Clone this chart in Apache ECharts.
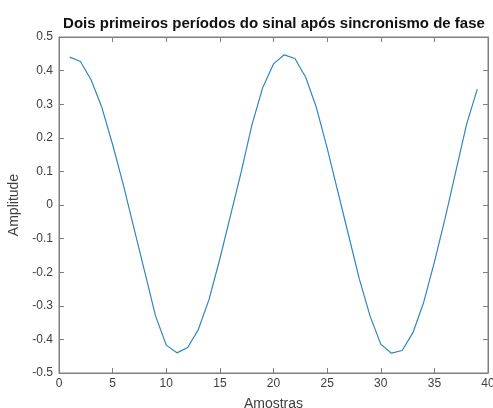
<!DOCTYPE html>
<html>
<head>
<meta charset="utf-8">
<script src="https://cdn.jsdelivr.net/npm/echarts@6/dist/echarts.min.js"></script>
<style>html,body{margin:0;padding:0;background:#fff;}#c{width:493px;height:408px;}</style>
</head>
<body>
<div id="c"></div>
<script>
var samples = [1,2,3,4,5,6,7,8,9,10,11,12,13,14,15,16,17,18,19,20,21,22,23,24,25,26,27,28,29,30,31,32,33,34,35,36,37,38,39];
var amplitude = [0.440,0.427,0.372,0.290,0.180,0.060,-0.070,-0.200,-0.330,-0.417,-0.440,-0.424,-0.370,-0.280,-0.160,-0.030,0.100,0.240,0.350,0.420,0.447,0.436,0.380,0.290,0.170,0.040,-0.090,-0.220,-0.330,-0.414,-0.441,-0.433,-0.380,-0.290,-0.170,-0.040,0.100,0.240,0.345];
var xTicks = [0,5,10,15,20,25,30,35,40];
var yTicks = [-0.5,-0.4,-0.3,-0.2,-0.1,0,0.1,0.2,0.3,0.4,0.5];

var chart = echarts.init(document.getElementById('c'), null, {renderer:'canvas'});
var axisColor = '#7f7f7f';
var labelColor = '#404040';
var font = 'Liberation Sans, Arial, sans-serif';
var pts = samples.map(function(s,i){return [s, amplitude[i]];});
chart.setOption({
  animation:false,
  backgroundColor:'#fff',
  title:{text:'Dois primeiros períodos do sinal após sincronismo de fase', left:269, top:11, textAlign:'center',
    textStyle:{fontFamily:font, fontSize:15, fontWeight:'bold', color:'#111'}},
  grid:{left:59, right:5, top:37, bottom:35, show:true, borderColor:axisColor, borderWidth:1,
    containLabel:false, outerBoundsMode:'none'},
  xAxis:[{type:'value', min:0, max:40, interval:5, position:'bottom',
    name:'Amostras', nameLocation:'middle', nameGap:24,
    nameTextStyle:{fontFamily:font, fontSize:14, color:labelColor},
    axisLine:{show:true, onZero:false, lineStyle:{color:axisColor}},
    axisTick:{show:true, inside:true, length:5, lineStyle:{color:axisColor}},
    axisLabel:{fontFamily:font, fontSize:12, color:labelColor, margin:5,
      formatter:function(v){return xTicks.indexOf(v)>=0 ? String(v) : '';}},
    splitLine:{show:false}},
   {type:'value', min:0, max:40, interval:5, position:'top',
    axisLine:{show:true, onZero:false, lineStyle:{color:axisColor}},
    axisTick:{show:true, inside:true, length:5, lineStyle:{color:axisColor}},
    axisLabel:{show:false}, splitLine:{show:false}}],
  yAxis:[{type:'value', min:-0.5, max:0.5, interval:0.1, position:'left',
    name:'Amplitude', nameLocation:'middle', nameGap:36, nameRotate:90,
    nameTextStyle:{fontFamily:font, fontSize:14, color:labelColor},
    axisLine:{show:true, onZero:false, lineStyle:{color:axisColor}},
    axisTick:{show:true, inside:true, length:5, lineStyle:{color:axisColor}},
    axisLabel:{fontFamily:font, fontSize:12, color:labelColor, margin:6,
      formatter:function(v){var r=Math.round(v*10)/10; return yTicks.indexOf(r)>=0 ? (r===0?'0':String(r)) : '';}},
    splitLine:{show:false}},
   {type:'value', min:-0.5, max:0.5, interval:0.1, position:'right',
    axisLine:{show:true, onZero:false, lineStyle:{color:axisColor}},
    axisTick:{show:true, inside:true, length:5, lineStyle:{color:axisColor}},
    axisLabel:{show:false}, splitLine:{show:false}}],
  series:[{type:'line', data:pts, xAxisIndex:0, yAxisIndex:0, showSymbol:false, symbol:'none',
    lineStyle:{color:'#2f86c0', width:1.2}}]
});
</script>
</body>
</html>
